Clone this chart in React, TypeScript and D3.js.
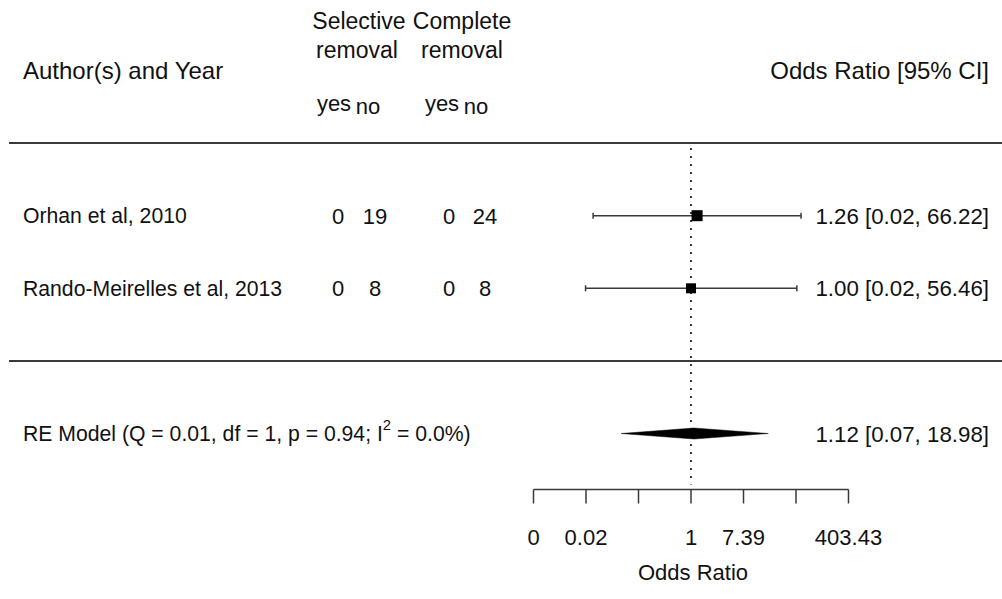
import React from "react";
import * as d3 from "d3";

// Study-level data
const studies = ["Orhan et al, 2010", "Rando-Meirelles et al, 2013"];
const selectiveYes = [0, 0];
const selectiveNo = [19, 8];
const completeYes = [0, 0];
const completeNo = [24, 8];
const orEstimate = [1.26, 1.0];
const orLower = [0.024, 0.018];
const orUpper = [66.22, 56.46];

// Random-effects summary
const summaryLabel = "RE Model (Q = 0.01, df = 1, p = 0.94; I";
const summaryLabelTail = " = 0.0%)";
const summaryEstimate = 1.12;
const summaryLower = 0.07;
const summaryUpper = 18.98;

// Axis ticks on the log scale and their printed labels
const axisTicksLog = [-6, -4, -2, 0, 2, 4, 6];
const axisTickLabels = ["0", "0.02", "", "1", "7.39", "", "403.43"];

const W = 1002;
const H = 599;
const FS = 22;
const FS_LABEL = 21.2;
const FS_ANNOT = 22.3;
const FS_HEAD = 24;
const FS_GROUP = 23;
const FS_SUB = 22;
const FONT = "'Liberation Sans', Arial, Helvetica, sans-serif";
const INK = "#111";
const LINE = "#3a3a3a";

export default function App() {
  const x = d3.scaleLinear().domain([-6, 6]).range([533.5, 848.5]);
  // row index -> vertical position (studies at k..1, separator at 0, summary at -1)
  const k = studies.length;
  const y = d3.scaleLinear().domain([1, 0]).range([288.3, 360.9]);
  const axisY = 489.5;

  const fmt = d3.format(".2f");
  const se = studies.map((_, i) => (Math.log(orUpper[i]) - Math.log(orLower[i])) / (2 * 1.96));
  const w = se.map((s) => 1 / s);
  const sizeScale = d3
    .scaleLinear()
    .domain([d3.min(w) as number, d3.max(w) as number])
    .range([10, 11]);

  const colSelYes = 338;
  const colSelNo = 375;
  const colCompYes = 449;
  const colCompNo = 485;
  const rightX = 989;

  const sEst = x(Math.log(summaryEstimate));
  const sLo = x(Math.log(summaryLower));
  const sHi = x(Math.log(summaryUpper));
  const sY = y(-1);
  const diamondH = 5.5;
  const diamond = d3.line()([
    [sLo, sY],
    [sEst, sY - diamondH],
    [sHi, sY],
    [sEst, sY + diamondH],
  ]) + "Z";

  const textProps = { fontFamily: FONT, fontSize: FS, fill: INK };
  const labelProps = { ...textProps, fontSize: FS_LABEL };
  const annotProps = { ...textProps, fontSize: FS_ANNOT };
  const headProps = { ...textProps, fontSize: FS_HEAD };
  const groupProps = { ...textProps, fontSize: FS_GROUP };
  const subProps = { ...textProps, fontSize: FS_SUB };

  return (
    <svg
      width={W}
      height={H}
      style={{ position: "absolute", left: 0, top: 0, background: "#fff" }}
    >
      <rect width={W} height={H} fill="#fff" />

      {/* column headers */}
      <text {...headProps} x={23} y={y(k + 2)} dy="0.36em">
        Author(s) and Year
      </text>
      <text {...headProps} x={rightX} y={y(k + 2)} dy="0.36em" textAnchor="end">
        Odds Ratio [95% CI]
      </text>
      <text {...groupProps} x={359} y={29.4} textAnchor="middle">Selective</text>
      <text {...groupProps} x={357} y={57.7} textAnchor="middle">removal</text>
      <text {...groupProps} x={462} y={29.4} textAnchor="middle">Complete</text>
      <text {...groupProps} x={462} y={57.7} textAnchor="middle">removal</text>
      <text {...subProps} x={334} y={111} textAnchor="middle">yes</text>
      <text {...subProps} x={368} y={113.5} textAnchor="middle">no</text>
      <text {...subProps} x={442} y={111} textAnchor="middle">yes</text>
      <text {...subProps} x={476} y={113.5} textAnchor="middle">no</text>

      {/* separators */}
      <line x1={9} x2={W} y1={y(k + 1)} y2={y(k + 1)} stroke={LINE} strokeWidth={2} />
      <line x1={9} x2={W} y1={y(0)} y2={y(0)} stroke={LINE} strokeWidth={2} />

      {/* reference line at OR = 1 */}
      <line
        x1={x(0)}
        x2={x(0)}
        y1={y(k + 1) + 5}
        y2={axisY - 5}
        stroke={LINE}
        strokeWidth={2}
        strokeDasharray="2,6"
      />

      {/* study rows */}
      {studies.map((name, i) => {
        const ry = y(k - i);
        const lo = x(Math.log(orLower[i]));
        const hi = x(Math.log(orUpper[i]));
        const est = x(Math.log(orEstimate[i]));
        const s = sizeScale(w[i]);
        return (
          <g key={name}>
            <text {...labelProps} x={23} y={ry} dy="0.36em">{name}</text>
            <text {...textProps} x={colSelYes} y={ry} dy="0.36em" textAnchor="middle">{selectiveYes[i]}</text>
            <text {...textProps} x={colSelNo} y={ry} dy="0.36em" textAnchor="middle">{selectiveNo[i]}</text>
            <text {...textProps} x={colCompYes} y={ry} dy="0.36em" textAnchor="middle">{completeYes[i]}</text>
            <text {...textProps} x={colCompNo} y={ry} dy="0.36em" textAnchor="middle">{completeNo[i]}</text>
            <line x1={lo} x2={hi} y1={ry} y2={ry} stroke={LINE} strokeWidth={1.5} />
            <line x1={lo} x2={lo} y1={ry - 3} y2={ry + 3} stroke={LINE} strokeWidth={1.5} />
            <line x1={hi} x2={hi} y1={ry - 3} y2={ry + 3} stroke={LINE} strokeWidth={1.5} />
            <rect x={est - s / 2} y={ry - s / 2} width={s} height={s} fill="#000" />
            <text {...annotProps} x={rightX} y={ry} dy="0.36em" textAnchor="end">
              {`${fmt(orEstimate[i])} [${fmt(orLower[i])}, ${fmt(orUpper[i])}]`}
            </text>
          </g>
        );
      })}

      {/* summary row */}
      <text {...labelProps} x={23} y={sY} dy="0.36em">
        {summaryLabel}
        <tspan fontSize={FS_LABEL * 0.7} dy="-0.75em">2</tspan>
        <tspan dy={FS_LABEL * 0.7 * 0.75}>{summaryLabelTail}</tspan>
      </text>
      <path d={diamond} fill="#000" stroke="#000" strokeWidth={0.5} />
      <text {...annotProps} x={rightX} y={sY} dy="0.36em" textAnchor="end">
        {`${fmt(summaryEstimate)} [${fmt(summaryLower)}, ${fmt(summaryUpper)}]`}
      </text>

      {/* x axis */}
      <line x1={x(-6)} x2={x(6)} y1={axisY} y2={axisY} stroke={LINE} strokeWidth={1.5} />
      {axisTicksLog.map((t, i) => (
        <g key={t}>
          <line x1={x(t)} x2={x(t)} y1={axisY} y2={axisY + 14} stroke={LINE} strokeWidth={1.5} />
          {axisTickLabels[i] && (
            <text {...textProps} x={x(t)} y={536.7} dy="0.36em" textAnchor="middle">
              {axisTickLabels[i]}
            </text>
          )}
        </g>
      ))}
      <text {...textProps} x={x(0) + 2} y={571.7} dy="0.36em" textAnchor="middle">
        Odds Ratio
      </text>
    </svg>
  );
}
